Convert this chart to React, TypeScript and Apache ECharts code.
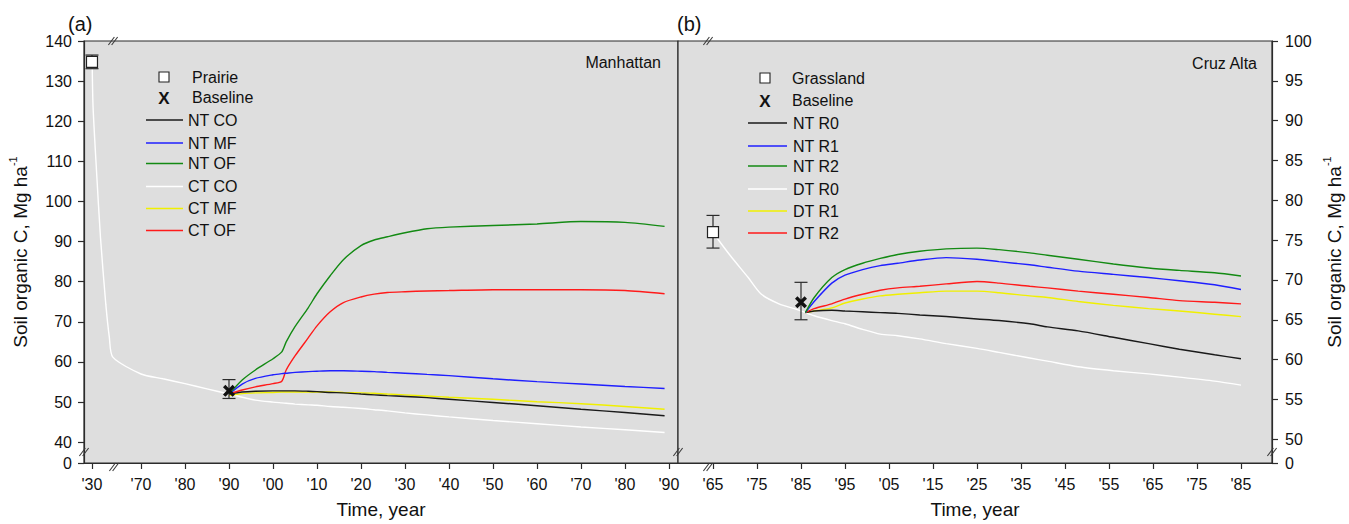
import React, { useEffect, useRef } from 'react';
import * as echarts from 'echarts';

// ---------- Axis ticks ----------
const leftXTickPos = [1958.86, 1970, 1980, 1990, 2000, 2010, 2020, 2030, 2040, 2050, 2060, 2070, 2080, 2090];
const leftXTickLabels = ["'30", "'70", "'80", "'90", "'00", "'10", "'20", "'30", "'40", "'50", "'60", "'70", "'80", "'90"];
const rightXTickPos = [1965, 1975, 1985, 1995, 2005, 2015, 2025, 2035, 2045, 2055, 2065, 2075, 2085];
const rightXTickLabels = ["'65", "'75", "'85", "'95", "'05", "'15", "'25", "'35", "'45", "'55", "'65", "'75", "'85"];
const leftYTickPos = [34.815, 40, 50, 60, 70, 80, 90, 100, 110, 120, 130, 140];
const leftYTickLabels = ['0', '40', '50', '60', '70', '80', '90', '100', '110', '120', '130', '140'];
const rightYTickPos = [47.015, 50, 55, 60, 65, 70, 75, 80, 85, 90, 95, 100];
const rightYTickLabels = ['0', '50', '55', '60', '65', '70', '75', '80', '85', '90', '95', '100'];

// ---------- (a) Manhattan ----------
const leftSeriesNames = ['NT CO', 'NT MF', 'NT OF', 'CT CO', 'CT MF', 'CT OF'];
// historical CT CO (x in axis units; early segment before the break is compressed)
const leftHistX = [1958.9, 1959.1, 1959.9, 1960.8, 1962.0, 1962.8, 1963.6, 1970, 1975, 1980, 1985, 1990];
const leftHistY = [135, 123.7, 107.4, 90.9, 74.4, 66.2, 61.2, 57.0, 55.8, 54.6, 53.3, 52.0];
const leftYears = [1990, 1993, 1996, 2000, 2002, 2003, 2005, 2008, 2010, 2013, 2016, 2020, 2023, 2026, 2030, 2035, 2040, 2050, 2060, 2070, 2080, 2089];
const ntCO = [52.0, 52.5, 52.7, 52.8, 52.8, 52.8, 52.8, 52.7, 52.6, 52.4, 52.3, 52.0, 51.8, 51.6, 51.4, 51.1, 50.7, 49.9, 49.1, 48.2, 47.4, 46.6];
const ntMF = [52.0, 54.5, 55.9, 56.8, 57.1, 57.2, 57.4, 57.6, 57.7, 57.8, 57.8, 57.7, 57.6, 57.4, 57.2, 56.9, 56.6, 55.8, 55.1, 54.5, 53.9, 53.4];
const ntOF = [52.0, 55.5, 58.0, 60.8, 62.5, 65.0, 68.8, 73.5, 77.0, 81.5, 85.5, 89.0, 90.4, 91.2, 92.2, 93.2, 93.6, 94.0, 94.4, 95.0, 94.8, 93.8];
const ctCO = [52.0, 51.2, 50.5, 50.0, 49.8, 49.7, 49.5, 49.3, 49.2, 48.9, 48.7, 48.4, 48.1, 47.8, 47.3, 46.8, 46.3, 45.4, 44.6, 43.8, 43.1, 42.4];
const ctMF = [51.6, 52.1, 52.3, 52.4, 52.5, 52.5, 52.5, 52.5, 52.5, 52.5, 52.4, 52.3, 52.2, 52.0, 51.8, 51.5, 51.2, 50.7, 50.1, 49.6, 48.9, 48.2];
const ctOF = [52.0, 53.0, 53.8, 54.6, 55.2, 58.0, 61.5, 66.0, 69.0, 72.5, 74.8, 76.2, 76.9, 77.3, 77.5, 77.7, 77.8, 78.0, 78.0, 78.0, 77.8, 77.0];
const prairie = [1958.86, 134.8, 133.1, 136.5]; // x, value, low, high
const leftBaseline = [1990, 52.8, 50.9, 55.6];

// ---------- (b) Cruz Alta ----------
const rightSeriesNames = ['NT R0', 'NT R1', 'NT R2', 'DT R0', 'DT R1', 'DT R2'];
const rightHistYears = [1965, 1966, 1969, 1973, 1976, 1980, 1984, 1986];
const rightHistY = [76.0, 75.2, 73.0, 70.3, 68.2, 67.0, 66.3, 65.9];
const rightYears = [1986, 1988, 1992, 1995, 1999, 2003, 2007, 2012, 2018, 2025, 2030, 2037, 2041, 2048, 2056, 2064, 2071, 2079, 2085];
const ntR0 = [65.9, 66.1, 66.2, 66.1, 66.0, 65.9, 65.8, 65.6, 65.4, 65.1, 64.9, 64.5, 64.1, 63.6, 62.8, 62.0, 61.3, 60.6, 60.1];
const ntR1 = [65.9, 67.3, 69.6, 70.6, 71.3, 71.8, 72.1, 72.5, 72.8, 72.6, 72.3, 71.9, 71.6, 71.1, 70.7, 70.3, 69.9, 69.4, 68.8];
const ntR2 = [65.9, 67.8, 70.3, 71.3, 72.1, 72.7, 73.2, 73.6, 73.9, 74.0, 73.8, 73.4, 73.1, 72.6, 72.0, 71.5, 71.2, 70.9, 70.5];
const dtR0 = [65.9, 65.5, 64.9, 64.5, 63.8, 63.2, 63.0, 62.6, 62.0, 61.4, 60.9, 60.2, 59.8, 59.1, 58.6, 58.2, 57.8, 57.3, 56.8];
const dtR1 = [65.9, 66.1, 66.5, 67.1, 67.6, 68.0, 68.2, 68.4, 68.6, 68.6, 68.4, 68.0, 67.8, 67.3, 66.8, 66.4, 66.1, 65.7, 65.4];
const dtR2 = [65.9, 66.4, 67.0, 67.6, 68.2, 68.7, 69.0, 69.2, 69.5, 69.8, 69.6, 69.2, 69.0, 68.6, 68.2, 67.8, 67.4, 67.2, 67.0];
const grassland = [1965, 76.0, 74.0, 78.1];
const rightBaseline = [1985, 67.2, 65.0, 69.7];

const COLORS = ['#1a1a1a', '#1f1fff', '#138a13', '#ffffff', '#f0f000', '#ff1a1a'];
const FONT = '"Liberation Sans", Arial, sans-serif';
const AXIS_COLOR = '#2b2b2b';
const X_MARK = 'path://M0,2 L2,0 L5,3 L8,0 L10,2 L7,5 L10,8 L8,10 L5,7 L2,10 L0,8 L3,5 Z';

function lookup(pos: number[], labels: string[]) {
  return (v: number) => {
    for (let i = 0; i < pos.length; i++) if (Math.abs(pos[i] - v) < 0.05) return labels[i];
    return '';
  };
}

function zip(xs: number[], ys: number[]) {
  return xs.map((x, i) => [x, ys[i]]);
}

function errRender(params: any, api: any) {
  const x = api.value(0);
  const lo = api.coord([x, api.value(2)]);
  const hi = api.coord([x, api.value(3)]);
  const w = 6.5;
  const style = { stroke: '#2b2b2b', lineWidth: 1.2 };
  return {
    type: 'group',
    children: [
      { type: 'line', shape: { x1: lo[0], y1: lo[1], x2: hi[0], y2: hi[1] }, style },
      { type: 'line', shape: { x1: lo[0] - w, y1: lo[1], x2: lo[0] + w, y2: lo[1] }, style },
      { type: 'line', shape: { x1: hi[0] - w, y1: hi[1], x2: hi[0] + w, y2: hi[1] }, style },
    ],
  };
}

function breakMark(cx: number, cy: number) {
  const items: any[] = [];
  [-1.6, 1.6].forEach((d) => {
    items.push({
      type: 'line',
      shape: { x1: cx + d - 3, y1: cy + 4, x2: cx + d + 3, y2: cy - 4 },
      style: { stroke: '#3a3a3a', lineWidth: 1.1 },
      z: 100,
    });
  });
  return items;
}

function legend(
  markerX: number, textX: number, rowY0: number, rowY1: number,
  lineX1: number, lineX2: number, lineTextX: number, lineYs: number[],
  firstLabel: string, names: string[]
) {
  const els: any[] = [];
  const txt = (x: number, y: number, t: string, extra: any = {}) => ({
    type: 'text', x, y, z: 100,
    style: { text: t, fill: '#111', fontSize: 16, fontFamily: FONT, verticalAlign: 'middle', align: 'left', ...extra },
  });
  els.push({ type: 'rect', shape: { x: markerX - 5, y: rowY0 - 5, width: 10, height: 10 }, style: { fill: '#fff', stroke: '#222', lineWidth: 1.1 }, z: 100 });
  els.push(txt(textX, rowY0, firstLabel));
  els.push(txt(markerX, rowY1 + 1, 'X', { align: 'center', fontWeight: 'bold', fontSize: 17 }));
  els.push(txt(textX, rowY1, 'Baseline'));
  names.forEach((n, i) => {
    els.push({ type: 'line', shape: { x1: lineX1, y1: lineYs[i], x2: lineX2, y2: lineYs[i] }, style: { stroke: COLORS[i], lineWidth: 1.4 }, z: 100 });
    els.push(txt(lineTextX, lineYs[i], n));
  });
  return els;
}

export default function App() {
  const ref = useRef<HTMLDivElement>(null);

  useEffect(() => {
    if (!ref.current) return;
    const chart = echarts.init(ref.current, undefined, { renderer: 'svg' });

    const yName = 'Soil organic C, Mg ha{sup|-1}';
    const nameStyle = {
      fontSize: 19, fontFamily: FONT, color: '#111',
      rich: { sup: { fontSize: 11, fontFamily: FONT, color: '#111', verticalAlign: 'top', lineHeight: 26 } },
    };
    const labelStyle = { fontSize: 16, fontFamily: FONT, color: '#111' };

    const xAxisCommon = (idx: number, pos: number[], labels: string[]) => ({
      type: 'value',
      gridIndex: idx,
      min: 1957.045,
      max: 2092.05,
      name: 'Time, year',
      nameLocation: 'middle',
      nameGap: 37,
      nameTextStyle: { fontSize: 19, fontFamily: FONT, color: '#111' },
      axisLine: { show: true, lineStyle: { color: AXIS_COLOR, width: 1.2 } },
      axisTick: { show: true, length: 6, inside: false, customValues: pos, lineStyle: { color: AXIS_COLOR, width: 1.2 } },
      axisLabel: { ...labelStyle, margin: 13, customValues: pos, formatter: lookup(pos, labels) },
      splitLine: { show: false },
    });

    const lineSeries = (name: string, xs: number[], ys: number[], color: string, axis: number) => ({
      name,
      type: 'line',
      xAxisIndex: axis,
      yAxisIndex: axis,
      data: zip(xs, ys),
      showSymbol: false,
      symbol: 'none',
      smooth: 0.25,
      lineStyle: { color, width: 1.4 },
      z: 2,
    });

    const leftVals = [ntCO, ntMF, ntOF, ctCO, ctMF, ctOF];
    const rightVals = [ntR0, ntR1, ntR2, dtR0, dtR1, dtR2];
    const drawOrder = [3, 4, 0, 5, 1, 2];

    const series: any[] = [];
    series.push(lineSeries('CT CO history', leftHistX, leftHistY, COLORS[3], 0));
    drawOrder.forEach((i) => series.push(lineSeries(leftSeriesNames[i], leftYears, leftVals[i], COLORS[i], 0)));
    series.push(lineSeries('DT R0 history', rightHistYears, rightHistY, COLORS[3], 1));
    drawOrder.forEach((i) => series.push(lineSeries(rightSeriesNames[i], rightYears, rightVals[i], COLORS[i], 1)));

    [[prairie, leftBaseline, 0], [grassland, rightBaseline, 1]].forEach(([ref0, base, ax]: any) => {
      series.push({
        type: 'custom', name: 'error', xAxisIndex: ax, yAxisIndex: ax,
        data: [ref0, base], renderItem: errRender, z: 3,
        encode: { x: 0, y: 1 },
      });
      series.push({
        type: 'scatter', name: ax === 0 ? 'Prairie' : 'Grassland', xAxisIndex: ax, yAxisIndex: ax,
        data: [[ref0[0], ref0[1]]], symbol: 'rect', symbolSize: 11,
        itemStyle: { color: '#ffffff', borderColor: '#222', borderWidth: 1.2, opacity: 1 }, z: 4,
      });
      series.push({
        type: 'scatter', name: 'Baseline', xAxisIndex: ax, yAxisIndex: ax,
        data: [[base[0], base[1]]], symbol: X_MARK, symbolSize: 12,
        itemStyle: { color: '#111', opacity: 1 }, z: 5,
      });
    });

    const graphic: any[] = [
      { type: 'text', x: 68, y: 24, style: { text: '(a)', fontSize: 20, fontFamily: FONT, fill: '#111', verticalAlign: 'middle' } },
      { type: 'text', x: 677, y: 24, style: { text: '(b)', fontSize: 20, fontFamily: FONT, fill: '#111', verticalAlign: 'middle' } },
      { type: 'text', x: 661, y: 62, z: 100, style: { text: 'Manhattan', fontSize: 16, fontFamily: FONT, fill: '#111', align: 'right', verticalAlign: 'middle' } },
      { type: 'text', x: 1257, y: 63, z: 100, style: { text: 'Cruz Alta', fontSize: 16, fontFamily: FONT, fill: '#111', align: 'right', verticalAlign: 'middle' } },
      ...legend(164, 192, 77, 97, 146, 183, 188, [120, 143, 163.5, 186.5, 208.5, 230.5], 'Prairie', leftSeriesNames),
      ...legend(765, 792, 78, 100, 748, 787, 793, [123, 146, 166, 189, 211, 233], 'Grassland', rightSeriesNames),
      ...breakMark(113, 41),
      ...breakMark(114, 467),
      ...breakMark(84, 452),
      ...breakMark(678, 452),
      ...breakMark(708, 41),
      ...breakMark(708, 467),
      ...breakMark(1272, 452),
    ];

    chart.setOption({
      animation: false,
      backgroundColor: '#ffffff',
      textStyle: { fontFamily: FONT },
      grid: [
        { left: 84, top: 41, width: 594, height: 426, show: true, backgroundColor: '#dedede', borderColor: AXIS_COLOR, borderWidth: 1.2 },
        { left: 678, top: 41, width: 594, height: 426, show: true, backgroundColor: '#dedede', borderColor: AXIS_COLOR, borderWidth: 1.2 },
      ],
      xAxis: [xAxisCommon(0, leftXTickPos, leftXTickLabels), xAxisCommon(1, rightXTickPos, rightXTickLabels)],
      yAxis: [
        {
          type: 'value', gridIndex: 0, position: 'left', min: 34.815, max: 140,
          name: yName, nameLocation: 'middle', nameGap: 51, nameRotate: 90, nameTextStyle: nameStyle,
          axisLine: { show: true, lineStyle: { color: AXIS_COLOR, width: 1.2 } },
          axisTick: { show: true, length: 6, customValues: leftYTickPos, lineStyle: { color: AXIS_COLOR, width: 1.2 } },
          axisLabel: { ...labelStyle, margin: 12, customValues: leftYTickPos, formatter: lookup(leftYTickPos, leftYTickLabels) },
          splitLine: { show: false },
        },
        {
          type: 'value', gridIndex: 1, position: 'right', min: 47.015, max: 100,
          name: yName, nameLocation: 'middle', nameGap: 49, nameRotate: 90, nameTextStyle: nameStyle,
          axisLine: { show: true, lineStyle: { color: AXIS_COLOR, width: 1.2 } },
          axisTick: { show: true, length: 6, customValues: rightYTickPos, lineStyle: { color: AXIS_COLOR, width: 1.2 } },
          axisLabel: { ...labelStyle, margin: 13, customValues: rightYTickPos, formatter: lookup(rightYTickPos, rightYTickLabels) },
          splitLine: { show: false },
        },
      ],
      graphic,
      series,
    });

    return () => chart.dispose();
  }, []);

  return <div ref={ref} style={{ position: 'fixed', left: 0, top: 0, width: '1349px', height: '524px' }} />;
}
